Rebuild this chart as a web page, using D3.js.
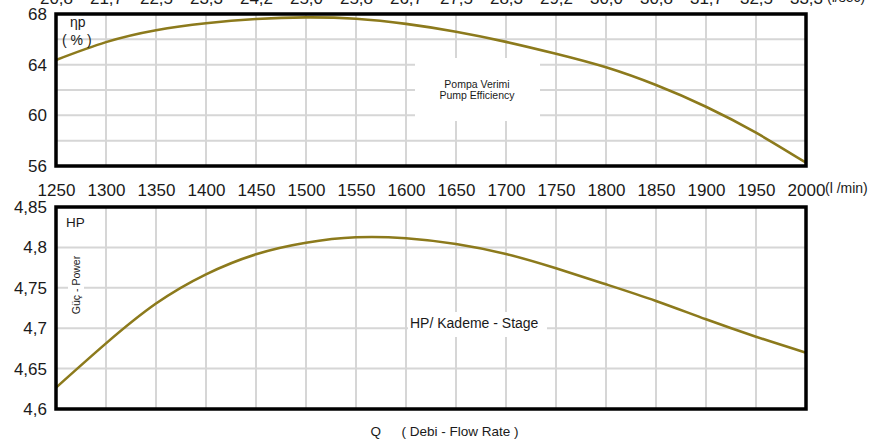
<!DOCTYPE html>
<html>
<head>
<meta charset="utf-8">
<script src="https://cdn.jsdelivr.net/npm/d3@7"></script>
<style>
  html, body { margin: 0; padding: 0; background: #fff; }
  svg { display: block; }
  text { font-family: "Liberation Sans", Arial, Helvetica, sans-serif; fill: #1a1a1a; }
</style>
</head>
<body>
<script>
// ---- data ----
const flowTicks = [1250, 1300, 1350, 1400, 1450, 1500, 1550, 1600, 1650, 1700, 1750, 1800, 1850, 1900, 1950, 2000];
const secLabels = ["20,8", "21,7", "22,5", "23,3", "24,2", "25,0", "25,8", "26,7", "27,5", "28,3", "29,2", "30,0", "30,8", "31,7", "32,5", "33,3"];
const effTicks = [56, 60, 64, 68];
const effGrid = [58, 60, 62, 64, 66];
const hpTicks = [4.6, 4.65, 4.7, 4.75, 4.8, 4.85];
const hpGrid = [4.65, 4.7, 4.75, 4.8];
const flow = [1250, 1300, 1350, 1400, 1450, 1500, 1550, 1600, 1650, 1700, 1750, 1800, 1850, 1900, 1950, 2000];
const efficiency = [64.37, 65.78, 66.72, 67.27, 67.6, 67.73, 67.62, 67.22, 66.6, 65.8, 64.86, 63.79, 62.39, 60.68, 58.63, 56.26];
const power = [4.6264, 4.6812, 4.7305, 4.7667, 4.7915, 4.8058, 4.8125, 4.8113, 4.8042, 4.7918, 4.7741, 4.7543, 4.7337, 4.711, 4.6895, 4.6697];

(function () {
// ---- layout ----
const W = 880, H = 441;
const curveColor = "#8c7a1c";
const gridColor = "#d6d6d6";

const svg = d3.select("body").append("svg").attr("width", W).attr("height", H);

const x = d3.scaleLinear().domain([1250, 2000]).range([56, 806]);
const yE = d3.scaleLinear().domain([56, 68]).range([166, 14]);
const yP = d3.scaleLinear().domain([4.6, 4.85]).range([409, 207]);
const comma = d => String(d).replace(".", ",");

function panel(yScale, gridVals, tickVals) {
  const g = svg.append("g");
  const [y0, y1] = yScale.range();
  g.selectAll(".vg").data(flowTicks.slice(1, -1)).join("line")
    .attr("x1", d => x(d)).attr("x2", d => x(d))
    .attr("y1", y1).attr("y2", y0)
    .attr("stroke", gridColor).attr("stroke-width", 2);
  g.selectAll(".hg").data(gridVals).join("line")
    .attr("x1", 56).attr("x2", 806)
    .attr("y1", d => yScale(d)).attr("y2", d => yScale(d))
    .attr("stroke", gridColor).attr("stroke-width", 2);
  const ax = svg.append("g").attr("transform", "translate(56,0)")
    .call(d3.axisLeft(yScale).tickValues(tickVals).tickSize(0).tickPadding(9).tickFormat(comma));
  ax.select(".domain").remove();
  ax.selectAll("text").attr("font-size", 17).attr("font-family", "Liberation Sans, Arial, sans-serif").attr("fill", "#1a1a1a");
  return g;
}

panel(yE, effGrid, effTicks);
panel(yP, hpGrid, hpTicks);

// white label boxes
svg.append("rect").attr("x", 415).attr("y", 58).attr("width", 125).attr("height", 63).attr("fill", "#fff");
svg.append("rect").attr("x", 408).attr("y", 312).attr("width", 139).attr("height", 25).attr("fill", "#fff");
svg.append("rect").attr("x", 68).attr("y", 253).attr("width", 16).attr("height", 64).attr("fill", "#fff");

// curves
const line = (ys, yScale) => d3.line()
  .x((d, i) => x(flow[i]))
  .y(d => yScale(d))
  .curve(d3.curveNatural)(ys);

svg.append("path").attr("d", line(efficiency, yE))
  .attr("fill", "none").attr("stroke", curveColor).attr("stroke-width", 2.6);
svg.append("path").attr("d", line(power, yP))
  .attr("fill", "none").attr("stroke", curveColor).attr("stroke-width", 2.6);

// borders
svg.append("rect").attr("x", 56).attr("y", 14).attr("width", 750).attr("height", 152)
  .attr("fill", "none").attr("stroke", "#000").attr("stroke-width", 3.5);
svg.append("rect").attr("x", 56).attr("y", 207).attr("width", 750).attr("height", 202)
  .attr("fill", "none").attr("stroke", "#000").attr("stroke-width", 3.5);

// x axis (l/min) between panels
const axM = svg.append("g").attr("transform", "translate(0,166)")
  .call(d3.axisBottom(x).tickValues(flowTicks).tickSize(0).tickFormat(d3.format("d")));
axM.select(".domain").remove();
axM.selectAll("text").attr("font-size", 17).attr("y", 30).attr("dy", 0)
  .attr("font-family", "Liberation Sans, Arial, sans-serif").attr("fill", "#1a1a1a");

// top axis (l/sec)
const axT = svg.append("g").attr("transform", "translate(0,14)")
  .call(d3.axisTop(x).tickValues(flowTicks).tickSize(0).tickFormat((d, i) => secLabels[i]));
axT.select(".domain").remove();
axT.selectAll("text").attr("font-size", 17).attr("y", -10.5).attr("dy", 0)
  .attr("font-family", "Liberation Sans, Arial, sans-serif").attr("fill", "#1a1a1a");

// unit labels
svg.append("text").attr("x", 825).attr("y", 193).attr("font-size", 14).text("(l /min)");
svg.append("text").attr("x", 827).attr("y", 2).attr("font-size", 14).text("(l/sec)");

// panel labels
svg.append("text").attr("x", 70).attr("y", 27).attr("font-size", 14).text("ηp");
svg.append("text").attr("x", 62).attr("y", 45).attr("font-size", 14).text("( % )");
svg.append("text").attr("x", 477).attr("y", 87.5).attr("font-size", 10.5).attr("text-anchor", "middle").text("Pompa Verimi");
svg.append("text").attr("x", 477).attr("y", 98.5).attr("font-size", 10.5).attr("text-anchor", "middle").text("Pump Efficiency");

svg.append("text").attr("x", 66).attr("y", 226.7).attr("font-size", 13.5).text("HP");
svg.append("text").attr("transform", "translate(80,285) rotate(-90)").attr("font-size", 10.5)
  .attr("text-anchor", "middle").text("Güç - Power");
svg.append("text").attr("x", 410).attr("y", 327.5).attr("font-size", 14).text("HP/ Kademe - Stage");

svg.append("text").attr("x", 370.5).attr("y", 435.5).attr("font-size", 13.5).text("Q");
svg.append("text").attr("x", 401.5).attr("y", 435.5).attr("font-size", 13.5).text("( Debi - Flow Rate )");
})();
</script>
</body>
</html>
